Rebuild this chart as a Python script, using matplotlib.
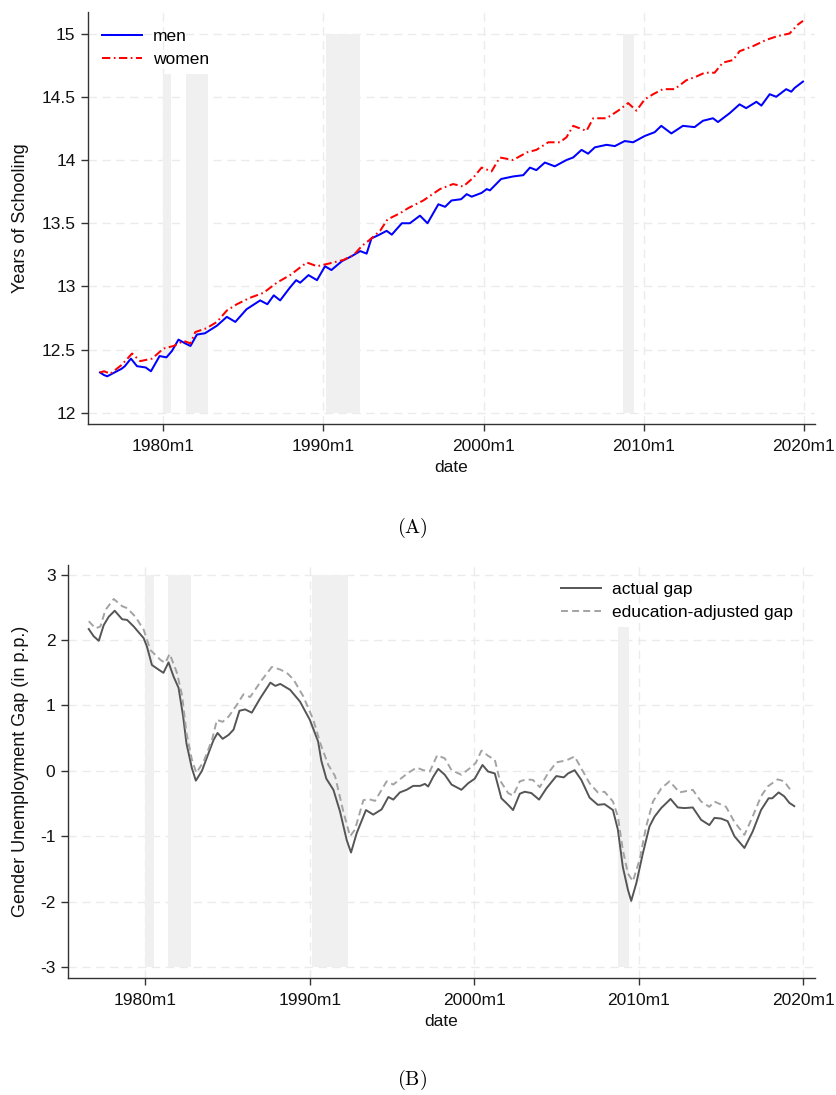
import matplotlib
matplotlib.use("Agg")
import matplotlib.pyplot as plt
from matplotlib.ticker import FuncFormatter

plt.rcParams['font.family'] = ['Liberation Sans', 'DejaVu Sans']
plt.rcParams['mathtext.fontset'] = 'cm'
plt.rcParams['lines.scale_dashes'] = False

# ---- shared x axis: monthly dates expressed as decimal years ----
tick_years = [1980, 1990, 2000, 2010, 2020]
tick_labels = ['1980m1', '1990m1', '2000m1', '2010m1', '2020m1']
x_range = (1975.3, 2020.7)

# recession periods (shaded)
rec_start = [1980.0, 1981.4, 1990.15, 2008.72]
rec_end = [1980.5, 1982.8, 1992.3, 2009.4]

# ---- panel A: average years of schooling ----
men_dates = [1976.05, 1976.3, 1976.5, 1976.8, 1977.1, 1977.4, 1977.6, 1977.98, 1978.36, 1978.9,
             1979.23, 1979.77, 1980.2, 1980.54, 1980.95, 1981.37, 1981.7, 1982.1, 1982.6, 1983.35,
             1983.97, 1984.5, 1985.2, 1986.05, 1986.5, 1986.9, 1987.3, 1987.9, 1988.3, 1988.55,
             1989.07, 1989.6, 1990.1, 1990.5, 1991.15, 1991.77, 1992.3, 1992.7, 1993.0, 1993.5,
             1993.95, 1994.27, 1994.9, 1995.4, 1996.03, 1996.5, 1997.18, 1997.6, 1998.0, 1998.6,
             1998.95, 1999.26, 1999.88, 2000.2, 2000.4, 2001.1, 2001.85, 2002.48, 2002.9, 2003.3,
             2003.83, 2004.45, 2005.18, 2005.6, 2006.12, 2006.53, 2006.95, 2007.68, 2008.2, 2008.82,
             2009.34, 2010.07, 2010.69, 2011.1, 2011.73, 2012.45, 2013.18, 2013.7, 2014.33, 2014.64,
             2015.37, 2015.99, 2016.4, 2017.04, 2017.35, 2017.87, 2018.28, 2018.9, 2019.22, 2019.43,
             2019.95]
men_school = [12.32, 12.30, 12.29, 12.31, 12.33, 12.35, 12.37, 12.43, 12.37, 12.36,
              12.33, 12.45, 12.44, 12.49, 12.58, 12.55, 12.53, 12.62, 12.63, 12.69,
              12.76, 12.72, 12.82, 12.89, 12.86, 12.93, 12.89, 12.99, 13.05, 13.03,
              13.09, 13.05, 13.16, 13.13, 13.20, 13.24, 13.28, 13.26, 13.38, 13.41,
              13.44, 13.41, 13.50, 13.50, 13.56, 13.50, 13.65, 13.63, 13.68, 13.69,
              13.73, 13.71, 13.74, 13.77, 13.76, 13.85, 13.87, 13.88, 13.94, 13.92,
              13.98, 13.95, 14.00, 14.02, 14.08, 14.05, 14.10, 14.12, 14.11, 14.15,
              14.14, 14.19, 14.22, 14.27, 14.21, 14.27, 14.26, 14.31, 14.33, 14.30,
              14.37, 14.44, 14.41, 14.46, 14.43, 14.52, 14.50, 14.56, 14.54, 14.57,
              14.62]

women_dates = [1976.05, 1976.3, 1976.7, 1977.4, 1978.05, 1978.56, 1979.3, 1980.02, 1980.65, 1981.27,
               1981.7, 1982.0, 1982.7, 1983.35, 1983.97, 1984.6, 1985.4, 1986.26, 1987.09, 1987.92,
               1988.96, 1989.6, 1990.3, 1991.25, 1991.9, 1992.4, 1992.9, 1993.54, 1994.0, 1994.8,
               1995.3, 1996.24, 1997.28, 1998.1, 1998.73, 1999.36, 1999.88, 2000.5, 2001.02, 2001.85,
               2002.7, 2003.3, 2004.04, 2004.77, 2005.18, 2005.6, 2006.43, 2006.85, 2007.68, 2008.41,
               2009.03, 2009.55, 2010.07, 2010.59, 2011.2, 2011.93, 2012.66, 2013.29, 2013.81, 2014.43,
               2014.95, 2015.58, 2015.99, 2016.83, 2017.66, 2018.38, 2019.11, 2019.63, 2019.95]
women_school = [12.32, 12.33, 12.31, 12.38, 12.47, 12.41, 12.43, 12.51, 12.53, 12.57,
                12.55, 12.64, 12.67, 12.72, 12.81, 12.86, 12.91, 12.95, 13.03, 13.09,
                13.19, 13.16, 13.18, 13.21, 13.25, 13.32, 13.37, 13.44, 13.53, 13.58,
                13.62, 13.68, 13.77, 13.81, 13.79, 13.86, 13.94, 13.91, 14.02, 14.00,
                14.06, 14.08, 14.14, 14.14, 14.18, 14.27, 14.23, 14.33, 14.33, 14.39,
                14.45, 14.39, 14.48, 14.52, 14.56, 14.56, 14.63, 14.66, 14.69, 14.69,
                14.77, 14.79, 14.86, 14.90, 14.95, 14.98, 15.00, 15.07, 15.10]

school_yticks = [12, 12.5, 13, 13.5, 14, 14.5, 15]
school_band_top = [14.68, 14.68, 15.0, 15.0]

# ---- panel B: gender unemployment gap ----
actual_dates = [1976.56, 1976.86, 1977.17, 1977.47, 1977.78, 1978.14, 1978.59, 1978.89, 1979.29, 1979.9,
                1980.1, 1980.4, 1980.8, 1981.1, 1981.41, 1981.72, 1982.02, 1982.3, 1982.5, 1982.83,
                1983.07, 1983.44, 1983.84, 1984.14, 1984.39, 1984.7, 1985.06, 1985.36, 1985.72, 1986.07,
                1986.47, 1986.98, 1987.6, 1987.9, 1988.2, 1988.8, 1989.4, 1990.0, 1990.5, 1990.7,
                1991.0, 1991.43, 1991.83, 1992.24, 1992.5, 1992.85, 1993.41, 1993.85, 1994.36, 1994.77,
                1995.07, 1995.47, 1995.88, 1996.28, 1996.7, 1996.99, 1997.19, 1997.5, 1997.8, 1998.2,
                1998.61, 1998.91, 1999.21, 1999.62, 2000.02, 2000.49, 2000.83, 2001.24, 2001.64, 2002.05,
                2002.35, 2002.76, 2003.06, 2003.46, 2003.93, 2004.37, 2004.98, 2005.43, 2005.69, 2006.09,
                2006.5, 2007.0, 2007.5, 2007.91, 2008.42, 2008.72, 2009.02, 2009.33, 2009.53, 2009.84,
                2010.24, 2010.64, 2010.95, 2011.35, 2011.92, 2012.36, 2012.77, 2013.27, 2013.78, 2014.28,
                2014.59, 2014.99, 2015.39, 2015.8, 2016.41, 2016.91, 2017.42, 2017.88, 2018.1, 2018.49,
                2018.83, 2019.14, 2019.44]
actual_gap = [2.17, 2.06, 1.99, 2.23, 2.36, 2.45, 2.32, 2.31, 2.21, 2.03,
              1.90, 1.62, 1.55, 1.50, 1.66, 1.44, 1.27, 0.83, 0.42, 0.04,
              -0.15, 0.00, 0.27, 0.47, 0.58, 0.49, 0.55, 0.63, 0.92, 0.94,
              0.89, 1.11, 1.35, 1.30, 1.33, 1.24, 1.06, 0.78, 0.45, 0.15,
              -0.12, -0.29, -0.62, -1.06, -1.25, -0.95, -0.60, -0.67, -0.59, -0.40,
              -0.44, -0.33, -0.29, -0.23, -0.23, -0.20, -0.24, -0.09, 0.03, -0.06,
              -0.21, -0.25, -0.29, -0.19, -0.12, 0.09, -0.01, -0.04, -0.42, -0.52,
              -0.60, -0.35, -0.32, -0.34, -0.44, -0.27, -0.08, -0.10, -0.04, 0.01,
              -0.14, -0.41, -0.52, -0.51, -0.60, -0.90, -1.47, -1.82, -1.99, -1.72,
              -1.26, -0.85, -0.70, -0.57, -0.43, -0.56, -0.57, -0.56, -0.75, -0.83,
              -0.72, -0.73, -0.77, -1.00, -1.18, -0.93, -0.60, -0.42, -0.42, -0.33,
              -0.39, -0.49, -0.54]

adjusted_dates = [1976.56, 1976.97, 1977.27, 1977.57, 1978.08, 1978.59, 1978.89, 1979.39, 1979.9, 1980.3,
                  1980.91, 1981.21, 1981.48, 1981.92, 1982.23, 1982.5, 1982.83, 1983.1, 1983.54, 1984.05,
                  1984.35, 1984.7, 1985.06, 1985.56, 1985.96, 1986.37, 1987.08, 1987.69, 1988.2, 1988.6,
                  1989.0, 1989.6, 1990.21, 1990.65, 1991.12, 1991.53, 1992.03, 1992.44, 1992.74, 1993.25,
                  1993.55, 1993.96, 1994.67, 1995.07, 1995.47, 1995.98, 1996.49, 1996.89, 1997.29, 1997.74,
                  1998.2, 1998.61, 1999.21, 1999.72, 2000.08, 2000.43, 2000.83, 2001.24, 2001.54, 2002.05,
                  2002.35, 2002.76, 2003.16, 2003.56, 2003.97, 2004.47, 2004.98, 2005.59, 2006.09, 2006.6,
                  2007.0, 2007.5, 2007.91, 2008.42, 2008.72, 2009.02, 2009.33, 2009.63, 2010.04, 2010.44,
                  2010.85, 2011.35, 2011.86, 2012.47, 2013.27, 2013.78, 2014.28, 2014.59, 2015.29, 2015.8,
                  2016.41, 2016.91, 2017.42, 2017.82, 2018.43, 2018.83, 2019.14, 2019.44]
adjusted_gap = [2.29, 2.18, 2.21, 2.46, 2.63, 2.52, 2.49, 2.36, 2.16, 1.85,
                1.70, 1.65, 1.79, 1.50, 1.16, 0.58, 0.17, -0.03, 0.14, 0.47,
                0.78, 0.75, 0.83, 1.01, 1.17, 1.13, 1.39, 1.59, 1.55, 1.50,
                1.40, 1.14, 0.78, 0.41, 0.09, -0.08, -0.62, -1.00, -0.90, -0.45,
                -0.43, -0.46, -0.16, -0.21, -0.13, -0.03, 0.05, 0.01, -0.01, 0.24,
                0.19, 0.01, -0.06, 0.04, 0.12, 0.31, 0.23, 0.17, -0.14, -0.34,
                -0.38, -0.16, -0.13, -0.14, -0.25, -0.04, 0.13, 0.16, 0.22, -0.01,
                -0.19, -0.33, -0.32, -0.47, -0.70, -1.21, -1.57, -1.69, -1.36, -0.85,
                -0.47, -0.27, -0.16, -0.33, -0.29, -0.47, -0.55, -0.47, -0.55, -0.78,
                -0.98, -0.70, -0.39, -0.24, -0.13, -0.16, -0.27, -0.30]

gap_yticks = [-3, -2, -1, 0, 1, 2, 3]
gap_band_top = [3.0, 3.0, 3.0, 2.2]

# ---- figure ----
FS = 12.5
W, H = 836, 1095
fig = plt.figure(figsize=(W / 100, H / 100), dpi=100)


def axes_px(left, top, right, bottom):
    return fig.add_axes([left / W, 1 - bottom / H, (right - left) / W, (bottom - top) / H])


def style_axes(ax, yticks, ylim):
    for side in ('top', 'right'):
        ax.spines[side].set_visible(False)
    for side in ('left', 'bottom'):
        ax.spines[side].set_color('#333333')
        ax.spines[side].set_linewidth(1.0)
    ax.set_xlim(*x_range)
    ax.set_ylim(*ylim)
    ax.set_xticks(tick_years)
    ax.set_xticklabels(tick_labels)
    ax.set_yticks(yticks)
    ax.yaxis.set_major_formatter(FuncFormatter(lambda v, p: f'{v:g}'))
    ax.tick_params(direction='out', length=5, width=1, color='#333333',
                   labelsize=FS, labelcolor='#111111')
    ax.tick_params(axis='x', pad=6)
    ax.tick_params(axis='y', pad=4)
    ax.grid(True, color='#ebebeb', linewidth=1.0, linestyle=(0, (6, 4)))
    ax.set_axisbelow(True)
    ax.set_xlabel('date', fontsize=FS, color='#111111', va='center')


def shade_recessions(ax, low, tops):
    heights = [t - low for t in tops]
    widths = [e - s for s, e in zip(rec_start, rec_end)]
    ax.bar(rec_start, heights, width=widths, bottom=low, align='edge',
           color='#f0f0f0', linewidth=0, zorder=1)


legend_opts = dict(loc='upper left', frameon=False, fontsize=FS, handlelength=2.3,
                   handletextpad=0.65, labelspacing=0.45, borderpad=0, borderaxespad=0)

# panel A
ax1 = axes_px(88, 12, 815, 424)
style_axes(ax1, school_yticks, (11.913, 15.17))
shade_recessions(ax1, 12.0, school_band_top)
ax1.plot(men_dates, men_school, color='#0000ff', linewidth=1.45, label='men', zorder=3)
ax1.plot(women_dates, women_school, color='#ff0000', linewidth=1.45,
         linestyle=(0, (6, 2.5, 1.2, 2.5)), label='women', zorder=3)
ax1.set_ylabel('Years of Schooling', fontsize=13, color='#111111', va='center')
ax1.yaxis.set_label_coords((21 - 88) / 727, 0.5)
ax1.xaxis.set_label_coords(0.5, (424 - 467) / 412)
ax1.legend(bbox_to_anchor=(0.019, 0.958), **legend_opts)

# panel B
ax2 = axes_px(68, 565, 815, 978)
style_axes(ax2, gap_yticks, (-3.17, 3.15))
shade_recessions(ax2, -3.0, gap_band_top)
ax2.plot(actual_dates, actual_gap, color='#555555', linewidth=1.4,
         label='actual gap', zorder=3)
ax2.plot(adjusted_dates, adjusted_gap, color='#a3a3a3', linewidth=1.4,
         linestyle=(0, (5, 3)), label='education-adjusted gap', zorder=3)
ax2.set_ylabel('Gender Unemployment Gap (in p.p.)', fontsize=13, color='#111111', va='center')
ax2.yaxis.set_label_coords((21 - 68) / 747, 0.5)
ax2.xaxis.set_label_coords(0.5, (978 - 1021) / 413)
ax2.legend(bbox_to_anchor=(0.66, 0.958), **legend_opts)

# panel captions
fig.text(412 / W, 1 - 528 / H, r'$\mathrm{(A)}$', ha='center', va='center', fontsize=14.5)
fig.text(412 / W, 1 - 1080 / H, r'$\mathrm{(B)}$', ha='center', va='center', fontsize=14.5)

fig.savefig('out.png', dpi=100, facecolor='white')
